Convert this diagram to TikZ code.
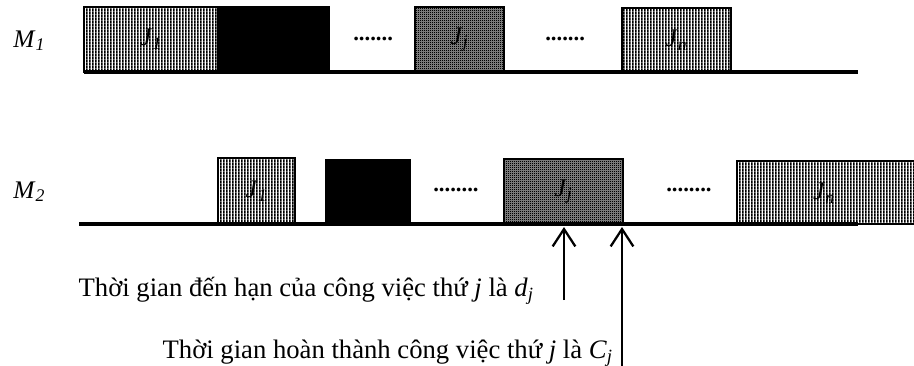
\documentclass[tikz,border=0pt]{standalone}
\usepackage{fontspec}
\setmainfont{Liberation Serif}
\usetikzlibrary{patterns.meta,arrows.meta}

% vertical hatching for ordinary jobs
\pgfdeclarepattern{name=vstripes, type=uncolored,
  bottom left={\pgfpoint{0pt}{0pt}}, top right={\pgfpoint{2.4pt}{2.4pt}},
  tile size={\pgfpoint{2.4pt}{2.4pt}},
  code={\pgfpathrectangle{\pgfpoint{0pt}{-0.1pt}}{\pgfpoint{1.5pt}{2.6pt}}\pgfusepath{fill}}}
% fine checkerboard for job j
\pgfdeclarepattern{name=checker, type=uncolored,
  bottom left={\pgfpoint{0pt}{0pt}}, top right={\pgfpoint{1.5pt}{1.5pt}},
  tile size={\pgfpoint{1.5pt}{1.5pt}},
  code={\pgfpathrectangle{\pgfpoint{0pt}{0pt}}{\pgfpoint{0.85pt}{0.85pt}}%
        \pgfpathrectangle{\pgfpoint{0.75pt}{0.75pt}}{\pgfpoint{0.85pt}{0.85pt}}%
        \pgfusepath{fill}}}

\tikzset{
  jobbox/.style={draw, line width=1.5pt, inner sep=0pt, outer sep=0pt,
    anchor=south west, font=\fontsize{19}{22}\selectfont},
  boxsize/.style 2 args={minimum width={#1*0.75pt}, minimum height={#2*0.75pt}},
  striped/.style={pattern=vstripes},
  checkered/.style={preaction={fill=black!45}, pattern=checker},
  idle/.style={fill=black},
  timeline/.style={line width=2.3pt},
  machine/.style={anchor=base west, inner sep=0pt, font=\fontsize{19}{22}\selectfont},
  gap/.style={anchor=base west, inner sep=0pt, font=\fontsize{17}{20}\selectfont\bfseries},
  caption/.style={anchor=base east, inner sep=0pt, font=\fontsize{20}{24}\selectfont},
  marker/.style={line width=1.7pt,
    -{Straight Barb[length=13pt, width=17pt, line width=1.7pt]}}
}

\newcommand{\job}[1]{\textit{J}\textsubscript{\textit{#1}}}

\begin{document}
\begin{tikzpicture}[x=0.75pt, y=-0.75pt]
\useasboundingbox (0,0) rectangle (914,365);
\clip (0,0) rectangle (914,365);

% machine 1
\node[machine] (lm1) at (13,47) {\textit{M}\textsubscript{\textit{1}}};
\node[jobbox, striped, boxsize={134}{65}] (m1j1) at (84,72) {\job{1}};
\node[jobbox, idle, boxsize={111}{65}] (m1idle) at (218,72) {};
\node[gap] (m1gapa) at (353,40) {.......};
\node[jobbox, checkered, boxsize={89}{65}] (m1jj) at (415,72) {\job{j}};
\node[gap] (m1gapb) at (545,40) {.......};
\node[jobbox, striped, boxsize={109}{64}] (m1jn) at (622,72) {\job{n}};
\coordinate (m1start) at (84,72);
\coordinate (m1end) at (858,72);
\draw[timeline] (m1start) -- (m1end);

% machine 2
\node[machine] (lm2) at (13,198) {\textit{M}\textsubscript{\textit{2}}};
\node[jobbox, striped, boxsize={77}{66}] (m2j1) at (218,224) {\job{1}};
\node[jobbox, idle, boxsize={84}{64}] (m2idle) at (326,224) {};
\node[gap] (m2gapa) at (433,191) {........};
\node[jobbox, checkered, boxsize={119}{65}] (m2jj) at (504,224) {\job{j}};
\node[gap] (m2gapb) at (666,191) {........};
\node[jobbox, striped, boxsize={190}{63}] (m2jn) at (737,224) {};
\node[font=\fontsize{19}{22}\selectfont, inner sep=0pt] (m2jnlabel) at (824,193) {\job{n}};
\coordinate (m2start) at (79,224);
\coordinate (m2end) at (858,224);
\draw[timeline] (m2start) -- (m2end);

% due date and completion time of job j
\node[caption] (due) at (534,296)
  {Thời gian đến hạn của công việc thứ \textit{j} là \textit{d}\textsubscript{\textit{j}}};
\node[caption] (done) at (613,358)
  {Thời gian hoàn thành công việc thứ \textit{j} là \textit{C}\textsubscript{\textit{j}}};
\coordinate (duefoot) at (564,300);
\coordinate (duetip) at (564,227);
\coordinate (donefoot) at (622,370);
\coordinate (donetip) at (622,227);
\draw[marker] (duefoot) -- (duetip);
\draw[marker] (donefoot) -- (donetip);
\end{tikzpicture}
\end{document}
